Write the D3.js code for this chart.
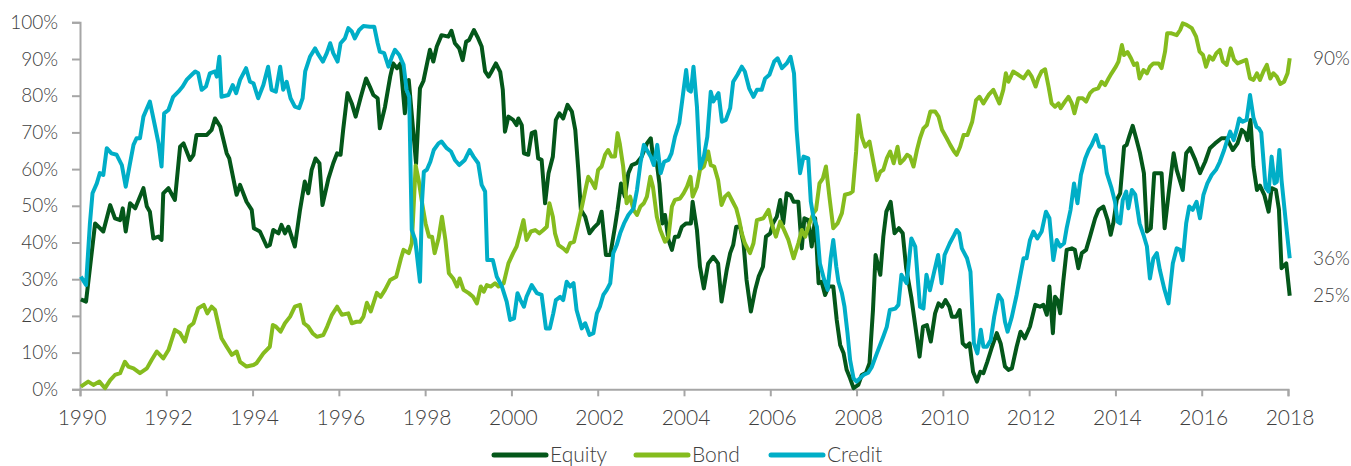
<!DOCTYPE html>
<html><head><meta charset="utf-8">
<script src="https://cdn.jsdelivr.net/npm/d3@7"></script>
<style>
html,body{margin:0;padding:0;background:#fff;}
svg text{font-family:Lato,"Open Sans",sans-serif;font-weight:300;fill:#404040;}
</style></head>
<body><svg id="c" width="1351" height="466"></svg>
<script>
const yearTicks = [1990,1992,1994,1996,1998,2000,2002,2004,2006,2008,2010,2012,2014,2016,2018];
const pctTicks = [0,10,20,30,40,50,60,70,80,90,100];
const seriesNames = ["Equity","Bond","Credit"];
const seriesColors = ["#04571a","#85bc1e","#00aec7"];

const equity = [[1990.02,24.5],[1990.14,23.9],[1990.35,45.2],[1990.54,43],[1990.7,50.2],[1990.81,46.6],[1990.93,46.1],[1990.99,49.3],[1991.06,43],[1991.16,50.7],[1991.28,49.3],[1991.47,54.8],[1991.55,49.8],[1991.62,48.4],[1991.7,41.1],[1991.82,41.6],[1991.89,40.7],[1991.93,53.4],[1992.05,54.8],[1992.2,51.6],[1992.32,66.1],[1992.4,67],[1992.55,62.5],[1992.63,63.9],[1992.7,69.3],[1992.94,69.3],[1993.05,70.7],[1993.13,73.8],[1993.25,71.6],[1993.4,64.3],[1993.46,62.9],[1993.63,53],[1993.71,55.7],[1993.86,51.1],[1993.98,48.9],[1994.03,43.9],[1994.17,43],[1994.33,38.9],[1994.4,39.3],[1994.48,43.4],[1994.6,42.5],[1994.67,44.8],[1994.75,42.5],[1994.83,44.3],[1994.98,38.9],[1995.1,48.9],[1995.21,56.6],[1995.29,53.4],[1995.37,59.8],[1995.46,62.9],[1995.55,61.6],[1995.62,50.2],[1995.76,57.5],[1995.87,61.6],[1995.96,64.3],[1996.04,63.9],[1996.1,70.7],[1996.2,80.7],[1996.3,77.9],[1996.39,74.3],[1996.51,79.7],[1996.63,84.7],[1996.72,82.4],[1996.8,80.2],[1996.9,79.3],[1996.95,71.1],[1997.07,77],[1997.19,85.2],[1997.26,88.8],[1997.35,87.5],[1997.43,88.8],[1997.53,75.2],[1997.62,84.3],[1997.79,61.5],[1997.88,82],[1997.96,84],[1998.11,92.5],[1998.19,89.3],[1998.27,93.4],[1998.38,96.5],[1998.54,96.1],[1998.61,97.7],[1998.69,94.3],[1998.79,92.9],[1998.87,89.7],[1998.95,94.7],[1999.02,95.2],[1999.13,97.9],[1999.23,95.6],[1999.31,93.4],[1999.39,86.6],[1999.47,85.2],[1999.54,86.6],[1999.64,88.8],[1999.74,86.5],[1999.8,81.6],[1999.85,70.2],[1999.93,74.3],[2000.04,73.4],[2000.12,72],[2000.16,73.8],[2000.24,72],[2000.29,64.3],[2000.39,63.9],[2000.47,69.8],[2000.55,70.2],[2000.62,62.9],[2000.7,62.5],[2000.78,50.7],[2000.86,58.9],[2000.96,63.4],[2001.03,73.4],[2001.11,75.2],[2001.2,73.8],[2001.3,77.5],[2001.4,75.7],[2001.48,70.7],[2001.55,59.8],[2001.61,48.9],[2001.71,47],[2001.81,42.5],[2001.9,43.9],[2002.01,45.2],[2002.09,48.4],[2002.19,36.6],[2002.29,36.6],[2002.4,44.3],[2002.46,48.9],[2002.54,56.1],[2002.63,52.5],[2002.71,58.9],[2002.79,61.1],[2002.9,61.6],[2003.02,63.4],[2003.14,67],[2003.23,68.4],[2003.29,62.5],[2003.37,61.6],[2003.43,56.1],[2003.5,45.2],[2003.56,47.5],[2003.64,40.7],[2003.72,38],[2003.79,41.6],[2003.87,41.6],[2003.95,44.3],[2004.05,45.2],[2004.16,45.2],[2004.2,51.1],[2004.3,43.4],[2004.37,33.4],[2004.46,27.5],[2004.56,34.3],[2004.68,36.1],[2004.79,34.3],[2004.87,23.9],[2004.99,32.5],[2005.07,37.1],[2005.14,39.3],[2005.21,44.3],[2005.3,44.3],[2005.38,39.8],[2005.45,29.8],[2005.55,21.2],[2005.65,27.1],[2005.73,30.7],[2005.83,33.4],[2005.9,41.6],[2006,42.5],[2006.06,45.2],[2006.15,47],[2006.23,51.6],[2006.3,45.2],[2006.38,53.4],[2006.47,52.9],[2006.54,51.1],[2006.65,51.1],[2006.73,38.4],[2006.79,46.6],[2006.88,46.1],[2006.96,38.9],[2007.04,46.6],[2007.12,28.9],[2007.19,29.3],[2007.27,25.7],[2007.35,28],[2007.46,28],[2007.54,18.9],[2007.62,12.1],[2007.7,9.8],[2007.77,5.3],[2007.85,3],[2007.93,0.3],[2008.04,1.2],[2008.12,3.9],[2008.22,4.5],[2008.3,7.1],[2008.38,21.6],[2008.44,36.6],[2008.55,31.2],[2008.62,41.6],[2008.69,48.4],[2008.79,51.1],[2008.88,42.5],[2008.98,43.9],[2009.07,42.5],[2009.15,33],[2009.27,25],[2009.46,8.9],[2009.54,17.1],[2009.63,17.5],[2009.72,13],[2009.82,20.7],[2009.9,23.4],[2009.98,22.5],[2010.06,24.3],[2010.15,22.5],[2010.21,19.8],[2010.31,19.8],[2010.39,21.6],[2010.46,12.5],[2010.54,11.6],[2010.62,12.5],[2010.7,4.8],[2010.79,2.1],[2010.87,4.8],[2010.94,4.4],[2011.03,7.5],[2011.14,11.6],[2011.25,15.3],[2011.34,12.5],[2011.44,6.2],[2011.52,5.3],[2011.6,5.7],[2011.71,11.6],[2011.8,15.7],[2011.9,13.9],[2012.02,17.1],[2012.14,23],[2012.25,22.5],[2012.33,23],[2012.41,20.3],[2012.47,28],[2012.55,15.3],[2012.6,25.2],[2012.66,24.3],[2012.72,20.7],[2012.79,29.3],[2012.87,38],[2012.99,38.4],[2013.06,38],[2013.14,33],[2013.22,37.1],[2013.32,38],[2013.41,41.6],[2013.53,46.6],[2013.61,48.9],[2013.72,49.8],[2013.82,46.1],[2013.89,42.1],[2013.95,45.2],[2014.03,51.6],[2014.11,53.4],[2014.2,66.1],[2014.26,66.6],[2014.32,68.9],[2014.4,71.8],[2014.48,68.4],[2014.57,64.3],[2014.66,58.9],[2014.73,43],[2014.82,43.9],[2014.9,58.9],[2015.07,58.9],[2015.14,43.9],[2015.23,53],[2015.35,64.3],[2015.42,59.8],[2015.56,54.3],[2015.64,64.3],[2015.73,65.7],[2015.85,62.5],[2015.96,58.9],[2016.08,62],[2016.19,65.7],[2016.31,67],[2016.46,68.4],[2016.58,68.4],[2016.72,65.2],[2016.83,67],[2016.93,70.7],[2017.01,69.8],[2017.06,67.9],[2017.13,73.4],[2017.2,60.7],[2017.28,54.3],[2017.35,55.5],[2017.45,53],[2017.55,48.4],[2017.62,54.8],[2017.72,54.3],[2017.79,49],[2017.85,33],[2017.96,34.3],[2018.04,25.5]];

const bond = [[1990.02,0.7],[1990.19,2.1],[1990.31,1.2],[1990.45,2.1],[1990.58,0.3],[1990.7,2.5],[1990.81,3.9],[1990.93,4.4],[1991.04,7.5],[1991.12,6.2],[1991.24,5.7],[1991.39,4.4],[1991.55,5.7],[1991.66,8],[1991.78,10.3],[1991.93,8.4],[1992.05,10.7],[1992.2,16.2],[1992.32,15.3],[1992.43,13],[1992.53,17.1],[1992.63,18],[1992.74,22.1],[1992.87,23],[1992.95,20.7],[1993.05,22.5],[1993.13,21.6],[1993.28,13.9],[1993.4,11.6],[1993.52,9.4],[1993.63,10.3],[1993.71,7.5],[1993.86,6.2],[1994.02,6.6],[1994.09,7.1],[1994.25,9.8],[1994.4,11.6],[1994.47,17.5],[1994.54,17.1],[1994.65,15.7],[1994.75,18],[1994.87,19.8],[1994.98,22.5],[1995.1,23],[1995.19,18],[1995.29,17.1],[1995.39,15.3],[1995.49,14.3],[1995.64,14.8],[1995.73,17.1],[1995.84,20.3],[1995.96,22.5],[1996.07,20.3],[1996.22,20.7],[1996.3,18],[1996.41,18.4],[1996.49,18.4],[1996.57,19.8],[1996.65,23.6],[1996.74,21.2],[1996.88,26.3],[1996.97,25.2],[1997.07,27.1],[1997.19,29.8],[1997.33,30.7],[1997.44,35.7],[1997.5,38],[1997.62,37.1],[1997.69,39.8],[1997.73,48.9],[1997.78,61],[1997.85,57],[1997.93,50.7],[1998.01,45.2],[1998.09,41.6],[1998.16,41.6],[1998.22,37.1],[1998.31,41.1],[1998.39,47],[1998.47,40.7],[1998.55,31.6],[1998.65,30.2],[1998.74,28],[1998.8,30.2],[1998.89,27.1],[1999.01,26.2],[1999.11,25.2],[1999.2,23.4],[1999.29,28],[1999.36,26.6],[1999.43,28.4],[1999.52,28],[1999.62,28.9],[1999.7,28],[1999.82,28.9],[1999.93,34.3],[2000.04,37.1],[2000.12,38.9],[2000.18,41.6],[2000.28,46.1],[2000.35,40.7],[2000.45,43],[2000.55,43.4],[2000.65,42.5],[2000.74,43.4],[2000.82,44.3],[2000.88,50.7],[2000.96,47],[2001.01,42.5],[2001.09,39.3],[2001.2,38.4],[2001.28,37.5],[2001.36,39.8],[2001.45,40.2],[2001.55,45.2],[2001.65,50.7],[2001.73,55.2],[2001.78,57.9],[2001.86,56.6],[2001.94,54.8],[2002.01,59.8],[2002.09,60.7],[2002.17,63.9],[2002.24,65.2],[2002.32,63.4],[2002.4,63.4],[2002.46,69.8],[2002.51,67],[2002.59,60.7],[2002.67,50.7],[2002.75,52.5],[2002.83,48.9],[2002.91,47.5],[2002.99,49.8],[2003.07,50.7],[2003.14,52.5],[2003.22,57.9],[2003.28,55.2],[2003.37,47],[2003.45,43.4],[2003.56,40.2],[2003.64,41.6],[2003.72,49.8],[2003.79,51.6],[2003.91,52],[2003.99,53.4],[2004.07,55.2],[2004.15,57.9],[2004.2,52.5],[2004.3,55.2],[2004.37,59.8],[2004.46,60.7],[2004.56,64.8],[2004.62,61.1],[2004.7,60.7],[2004.79,57],[2004.87,50.2],[2004.95,52.5],[2005.03,53.4],[2005.13,51.1],[2005.21,49.3],[2005.28,46.1],[2005.34,42.5],[2005.41,39.8],[2005.53,37.1],[2005.61,39.8],[2005.69,46.1],[2005.84,46.6],[2005.96,48.9],[2006.03,45.2],[2006.13,41.6],[2006.23,45.7],[2006.3,43.9],[2006.42,40.7],[2006.54,35.7],[2006.65,39.8],[2006.73,43.4],[2006.81,41.6],[2006.91,45.2],[2007,48],[2007.06,48.9],[2007.14,56.1],[2007.22,57.5],[2007.29,60.7],[2007.37,52.5],[2007.46,43.9],[2007.56,45.2],[2007.66,48],[2007.73,53],[2007.85,53.4],[2007.91,53.9],[2007.99,64.8],[2008.04,74.7],[2008.12,68.8],[2008.2,66.1],[2008.3,67.5],[2008.38,62.5],[2008.47,57],[2008.55,59.3],[2008.62,59.8],[2008.7,62.9],[2008.78,64.8],[2008.86,61.6],[2008.95,66.1],[2009.01,61.6],[2009.09,62.5],[2009.17,63.9],[2009.24,63.4],[2009.32,60.7],[2009.4,65.2],[2009.47,68.4],[2009.55,71.1],[2009.63,72],[2009.71,75.7],[2009.82,75.7],[2009.9,74.3],[2009.98,70.7],[2010.09,68.4],[2010.17,66.6],[2010.26,64.8],[2010.32,63.9],[2010.4,66.1],[2010.48,69.3],[2010.57,69.3],[2010.68,72.9],[2010.77,78.8],[2010.85,79.7],[2010.94,77.9],[2011.06,80.2],[2011.17,81.6],[2011.31,77.9],[2011.4,81.6],[2011.46,86.1],[2011.52,83.8],[2011.63,86.6],[2011.75,85.7],[2011.87,84.7],[2011.98,86.6],[2012.06,85.2],[2012.15,82.5],[2012.21,84.7],[2012.29,86.6],[2012.37,87.2],[2012.45,82.5],[2012.52,77.9],[2012.6,77],[2012.68,77.9],[2012.73,76.6],[2012.83,78.4],[2012.91,79.7],[2012.99,77.9],[2013.05,75.2],[2013.14,79.3],[2013.24,79.3],[2013.32,78.4],[2013.41,80.7],[2013.49,81.6],[2013.6,82],[2013.68,83.8],[2013.76,82.9],[2013.84,84.7],[2013.91,86.1],[2014.01,87.9],[2014.07,89.3],[2014.15,93.8],[2014.2,91.1],[2014.28,91.9],[2014.36,90.2],[2014.43,88.4],[2014.5,88.8],[2014.56,84.7],[2014.65,87],[2014.73,86.1],[2014.8,87.9],[2014.88,88.8],[2015,88.8],[2015.07,87.5],[2015.15,92],[2015.2,97],[2015.3,97],[2015.42,96.5],[2015.5,97.9],[2015.56,99.7],[2015.65,99.3],[2015.77,98.4],[2015.87,96.1],[2015.95,92],[2016.03,91.1],[2016.1,87.9],[2016.18,90.7],[2016.26,89.8],[2016.34,91.6],[2016.42,92.5],[2016.49,89.3],[2016.58,88.4],[2016.67,92.9],[2016.75,89.8],[2016.83,88.8],[2016.93,89.3],[2017.03,89.8],[2017.12,84.7],[2017.2,84.3],[2017.28,86.1],[2017.35,84.3],[2017.43,86.6],[2017.51,88.4],[2017.59,84.7],[2017.66,86.1],[2017.74,85.2],[2017.82,83.2],[2017.91,83.8],[2017.99,86.1],[2018.04,90.2]];

const credit = [[1990.02,30.7],[1990.14,28.4],[1990.23,45.2],[1990.29,53.4],[1990.39,56.1],[1990.46,58.9],[1990.54,58.4],[1990.62,65.7],[1990.73,64.3],[1990.85,63.9],[1990.97,61.1],[1991.06,55.2],[1991.16,61.6],[1991.24,66.6],[1991.31,68.4],[1991.39,68.4],[1991.47,74.3],[1991.62,78.4],[1991.74,71.6],[1991.82,67],[1991.89,60.7],[1991.95,75.2],[1992.05,76.1],[1992.16,79.7],[1992.28,81.1],[1992.38,82.5],[1992.47,84.3],[1992.59,85.7],[1992.67,86.6],[1992.74,86.1],[1992.82,81.6],[1992.92,82.5],[1993.01,86.1],[1993.13,86.6],[1993.17,85.2],[1993.23,90.6],[1993.28,79.7],[1993.44,80.2],[1993.54,82.9],[1993.62,80.7],[1993.71,84.3],[1993.85,87.5],[1993.94,83.8],[1994.02,83.4],[1994.13,79.3],[1994.25,82.9],[1994.36,87.9],[1994.44,81.6],[1994.54,81.1],[1994.64,87.9],[1994.71,81.6],[1994.79,83.8],[1994.88,79.3],[1994.98,77],[1995.08,76.6],[1995.16,79.3],[1995.22,86.6],[1995.33,90.6],[1995.45,92.9],[1995.53,91.1],[1995.63,89.3],[1995.72,91.6],[1995.8,94.3],[1995.87,91.6],[1995.97,89.3],[1996.04,94.3],[1996.14,95.6],[1996.22,98.4],[1996.3,97.5],[1996.37,95.6],[1996.47,97.9],[1996.57,99],[1996.72,98.8],[1996.82,98.8],[1996.9,94.3],[1996.95,92],[1997.05,91.6],[1997.15,87.9],[1997.23,90.6],[1997.3,92.5],[1997.4,91.1],[1997.5,88.4],[1997.57,81.6],[1997.63,79.7],[1997.69,43.4],[1997.77,40.7],[1997.88,29.3],[1997.93,51.6],[1997.97,59.3],[1998.04,59.8],[1998.12,62],[1998.2,65.2],[1998.31,67],[1998.38,67.5],[1998.5,65.7],[1998.6,64.8],[1998.69,62.5],[1998.79,61.1],[1998.92,62.5],[1999.03,65.2],[1999.12,63.4],[1999.23,61.6],[1999.31,55.7],[1999.39,53.9],[1999.44,35.2],[1999.57,35.2],[1999.66,30.7],[1999.78,28],[1999.89,23.9],[1999.97,18.9],[2000.06,19.3],[2000.14,26.2],[2000.21,24.3],[2000.29,22.5],[2000.35,25.2],[2000.47,28.4],[2000.59,26.2],[2000.7,25.7],[2000.8,16.6],[2000.89,16.6],[2000.97,20.7],[2001.03,24.3],[2001.13,25.2],[2001.2,24.3],[2001.28,29.3],[2001.36,28],[2001.44,28.9],[2001.51,21.6],[2001.63,16.6],[2001.71,18],[2001.81,14.8],[2001.9,15.3],[2001.98,20.7],[2002.05,22.5],[2002.13,25.7],[2002.21,27.1],[2002.29,28.9],[2002.36,37.1],[2002.44,39.3],[2002.52,42.5],[2002.61,45.2],[2002.71,47.5],[2002.83,49.3],[2002.91,54.3],[2002.99,61.6],[2003.07,66.6],[2003.14,65.2],[2003.23,63.4],[2003.3,61.1],[2003.38,66.6],[2003.46,58.9],[2003.54,62],[2003.64,62.5],[2003.71,64.3],[2003.79,68.8],[2003.89,72.5],[2003.97,79.7],[2004.05,87],[2004.1,81.6],[2004.16,81.1],[2004.22,87.9],[2004.3,77],[2004.37,60.2],[2004.46,63.4],[2004.54,68.8],[2004.62,81.1],[2004.68,78.4],[2004.8,80.7],[2004.88,72.9],[2004.97,73.4],[2005.07,76.6],[2005.14,83.8],[2005.24,85.7],[2005.34,87.9],[2005.41,86.6],[2005.51,82],[2005.61,79.7],[2005.69,81.6],[2005.8,81.6],[2005.88,84.7],[2005.98,85.7],[2006.09,89.3],[2006.17,90.2],[2006.27,87.5],[2006.38,88.8],[2006.47,90.6],[2006.55,86.1],[2006.61,70.7],[2006.69,58.9],[2006.77,63.4],[2006.88,62.9],[2006.94,51.1],[2007,47],[2007.08,44.3],[2007.15,34.3],[2007.25,29.8],[2007.33,27.1],[2007.4,35.7],[2007.46,40.7],[2007.53,33.4],[2007.58,29.3],[2007.66,26.2],[2007.72,22.5],[2007.79,15.3],[2007.85,8],[2007.93,3],[2008,2.1],[2008.08,3],[2008.16,3.9],[2008.27,4.5],[2008.35,6],[2008.47,9.8],[2008.62,14.4],[2008.7,17],[2008.77,21.6],[2008.9,22],[2008.97,23],[2009.04,31.2],[2009.16,28.9],[2009.27,41.1],[2009.36,38.9],[2009.47,22.5],[2009.55,22],[2009.62,31.2],[2009.7,27],[2009.79,31.6],[2009.89,36.6],[2009.97,28.9],[2010.04,36.6],[2010.16,39.8],[2010.26,42],[2010.32,43.4],[2010.38,42.5],[2010.44,38.4],[2010.56,35.7],[2010.64,32],[2010.72,12.5],[2010.8,9.8],[2010.88,16.2],[2010.94,11.6],[2011.02,11.6],[2011.11,13.4],[2011.19,19.8],[2011.29,25.7],[2011.37,24.3],[2011.44,18.4],[2011.5,15.7],[2011.6,19.8],[2011.71,25.7],[2011.79,30.7],[2011.87,35.7],[2011.94,35.7],[2012.02,40.7],[2012.1,43],[2012.19,41.1],[2012.29,43],[2012.39,48.4],[2012.47,46.6],[2012.56,35.2],[2012.64,40.7],[2012.72,38.9],[2012.81,39.8],[2012.87,43.9],[2012.96,48.9],[2013.04,56.1],[2013.12,50.7],[2013.2,58.4],[2013.3,62.9],[2013.38,65.2],[2013.45,66.6],[2013.55,69.3],[2013.63,66.1],[2013.72,66.1],[2013.8,58.9],[2013.91,54.8],[2013.99,51.1],[2014.05,45.7],[2014.11,45.2],[2014.17,51.6],[2014.25,53.9],[2014.3,49.3],[2014.38,54.3],[2014.46,53],[2014.56,45.2],[2014.65,42.1],[2014.73,38.9],[2014.8,30.2],[2014.88,35.7],[2014.96,37.1],[2015.03,32.5],[2015.13,27.5],[2015.23,23.4],[2015.33,34.3],[2015.42,38.4],[2015.5,38],[2015.56,35.2],[2015.64,45.2],[2015.71,49.8],[2015.79,48.9],[2015.88,51.1],[2015.96,46.6],[2016.04,53],[2016.13,56.1],[2016.23,58.4],[2016.33,59.8],[2016.42,62],[2016.52,65.2],[2016.58,67.5],[2016.66,70.2],[2016.74,67.9],[2016.81,70.7],[2016.87,73.8],[2016.95,72.9],[2017.04,73.4],[2017.12,80.2],[2017.2,74],[2017.27,71.5],[2017.33,71],[2017.38,70],[2017.48,55],[2017.55,53.9],[2017.62,63.4],[2017.69,56.1],[2017.74,56.5],[2017.8,65.2],[2017.85,57],[2017.95,45.5],[2018.04,35.7]];

const endLabels = ["90%","36%","25%"];

const svg = d3.select("#c");
const x = d3.scaleLinear().domain([1990, 2018]).range([80, 1288]);
const y = d3.scaleLinear().domain([0, 100]).range([389.3, 22.3]);

const axisColor = "#a6a6a6";

const gy = svg.append("g").attr("transform", "translate(80,0)")
  .call(d3.axisLeft(y).tickValues(pctTicks).tickSize(8).tickPadding(14).tickFormat(d => d + "%"));
const gx = svg.append("g").attr("transform", "translate(0,389.3)")
  .call(d3.axisBottom(x).tickValues(yearTicks).tickSize(7).tickPadding(14).tickFormat(d3.format("d")));
[gy, gx].forEach(g => {
  g.select(".domain").attr("stroke", axisColor).attr("stroke-width", 2);
  g.selectAll(".tick line").attr("stroke", axisColor).attr("stroke-width", 2);
  g.selectAll(".tick text").attr("fill", "#404040")
    .style("font-family", "Lato, 'Open Sans', sans-serif").style("font-weight", 300);
});
gy.selectAll(".tick text").attr("font-size", "19px");
gx.selectAll(".tick text").attr("font-size", "21px").attr("dx", "1.5");

const line = d3.line().x(d => x(d[0])).y(d => y(d[1]));
[equity, bond, credit].forEach((s, i) => {
  svg.append("path").datum(s).attr("d", line)
    .attr("fill", "none").attr("stroke", seriesColors[i])
    .attr("stroke-width", 4).attr("stroke-linejoin", "round");
});

[bond, credit, equity].forEach((s, i) => {
  const last = s[s.length - 1];
  svg.append("text").attr("x", x(2018) + 25).attr("y", y(last[1]))
    .attr("dy", "0.35em").attr("font-size", "19px").text(endLabels[i]);
});

const legendX = [492, 634, 769];
seriesNames.forEach((n, i) => {
  const g = svg.append("g").attr("transform", `translate(${legendX[i]},455)`);
  g.append("line").attr("x1", 2).attr("x2", 54).attr("y1", 0).attr("y2", 0)
    .attr("stroke", seriesColors[i]).attr("stroke-width", 5).attr("stroke-linecap", "round");
  g.append("text").attr("x", 58).attr("y", 0).attr("dy", "0.35em").attr("font-size", "21px").text(n);
});
</script></body></html>
